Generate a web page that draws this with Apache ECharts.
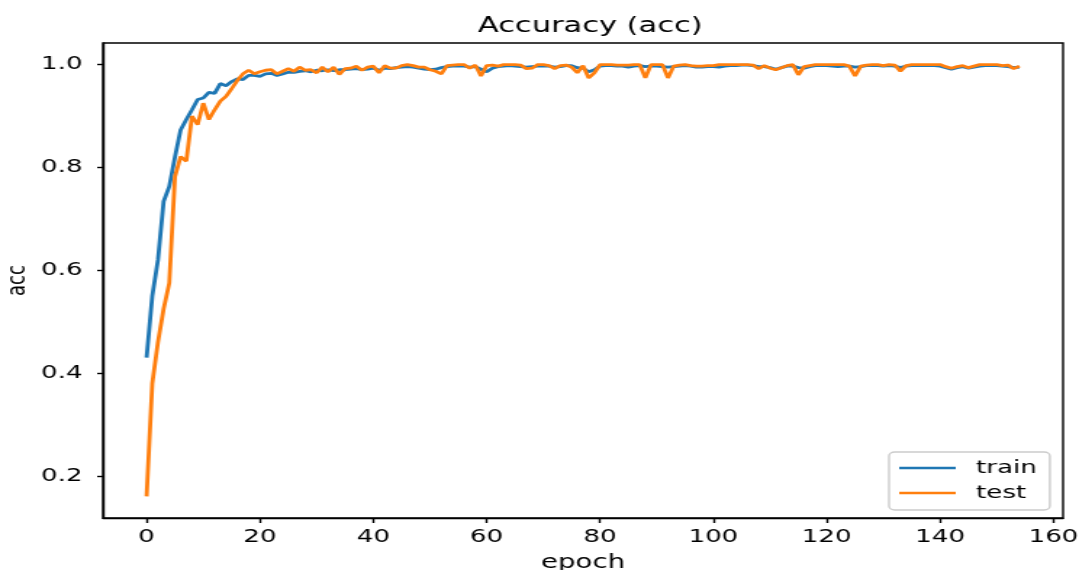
<!DOCTYPE html>
<html>
<head>
<meta charset="utf-8">
<script src="https://cdn.jsdelivr.net/npm/echarts@6/dist/echarts.min.js"></script>
<style>
html,body{margin:0;padding:0;background:#fff;overflow:hidden;}
#wrap{width:1079px;height:570px;overflow:hidden;}
/* the reference figure is stretched horizontally; reproduce that by drawing at 744px wide and stretching */
#chart{width:744px;height:570px;transform:scaleX(1.45027);transform-origin:0 0;}
</style>
</head>
<body>
<div id="wrap"><div id="chart"></div></div>
<script>
var titleText = 'Accuracy (acc)';
var xName = 'epoch';
var yName = 'acc';
var seriesNames = ['train', 'test'];
var xTicks = [0, 20, 40, 60, 80, 100, 120, 140, 160];
var yTicks = [0.2, 0.4, 0.6, 0.8, 1.0];

var train = [
0.43, 0.55, 0.62, 0.734, 0.763, 0.82, 0.873, 0.893, 0.912, 0.932,
0.935, 0.946, 0.944, 0.963, 0.959, 0.967, 0.972, 0.971, 0.979, 0.979,
0.977, 0.982, 0.983, 0.979, 0.982, 0.985, 0.985, 0.987, 0.988, 0.986,
0.989, 0.988, 0.990, 0.988, 0.990, 0.990, 0.991, 0.992, 0.990, 0.991,
0.993, 0.989, 0.993, 0.992, 0.994, 0.995, 0.996, 0.995, 0.993, 0.991,
0.990, 0.991, 0.994, 0.996, 0.997, 0.997, 0.997, 0.995, 0.996, 0.991,
0.986, 0.993, 0.996, 0.997, 0.998, 0.997, 0.996, 0.995, 0.996, 0.997,
0.997, 0.997, 0.995, 0.996, 0.998, 0.998, 0.994, 0.993, 0.986, 0.990,
0.997, 0.998, 0.998, 0.997, 0.997, 0.995, 0.997, 0.998, 0.996, 0.997,
0.997, 0.996, 0.995, 0.996, 0.997, 0.998, 0.997, 0.995, 0.995, 0.996,
0.996, 0.995, 0.997, 0.998, 0.998, 0.999, 0.999, 0.998, 0.996, 0.996,
0.994, 0.991, 0.994, 0.997, 0.997, 0.994, 0.993, 0.996, 0.998, 0.998,
0.998, 0.997, 0.996, 0.997, 0.997, 0.995, 0.996, 0.998, 0.998, 0.998,
0.997, 0.998, 0.997, 0.994, 0.997, 0.998, 0.998, 0.998, 0.998, 0.998,
0.997, 0.994, 0.991, 0.994, 0.996, 0.993, 0.995, 0.997, 0.998, 0.998,
0.998, 0.997, 0.996, 0.994, 0.995
];

var test = [
0.16, 0.38, 0.46, 0.525, 0.575, 0.782, 0.821, 0.812, 0.900, 0.883,
0.925, 0.893, 0.912, 0.929, 0.938, 0.953, 0.969, 0.982, 0.989, 0.982,
0.986, 0.989, 0.990, 0.982, 0.987, 0.992, 0.987, 0.995, 0.989, 0.990,
0.984, 0.995, 0.986, 0.995, 0.981, 0.992, 0.993, 0.997, 0.989, 0.995,
0.997, 0.984, 0.998, 0.993, 0.993, 0.998, 1.000, 0.998, 0.995, 0.995,
0.990, 0.987, 0.982, 0.998, 0.999, 1.000, 1.000, 0.993, 0.999, 0.978,
0.998, 0.999, 0.997, 1.000, 1.000, 1.000, 0.999, 0.992, 0.993, 1.000,
1.000, 0.998, 0.992, 0.998, 0.999, 0.995, 0.984, 0.998, 0.974, 0.984,
1.000, 1.000, 1.000, 0.999, 0.999, 0.999, 1.000, 1.000, 0.974, 1.000,
1.000, 1.000, 0.974, 0.997, 0.999, 1.000, 0.998, 0.997, 0.997, 0.998,
0.998, 1.000, 1.000, 1.000, 1.000, 1.000, 1.000, 0.999, 0.992, 0.998,
0.993, 0.990, 0.994, 0.998, 1.000, 0.980, 0.996, 0.998, 1.000, 1.000,
1.000, 1.000, 1.000, 1.000, 0.997, 0.978, 0.997, 0.999, 1.000, 1.000,
0.998, 1.000, 0.999, 0.987, 0.998, 1.000, 1.000, 1.000, 1.000, 1.000,
1.000, 0.996, 0.993, 0.996, 0.998, 0.994, 0.997, 1.000, 1.000, 1.000,
1.000, 0.998, 0.999, 0.992, 0.997
];

function pairs(arr) {
  var out = [];
  for (var i = 0; i < arr.length; i++) out.push([i, arr[i]]);
  return out;
}

var FONT = 'DejaVu Sans';
var chart = echarts.init(document.getElementById('chart'), null, {renderer: 'canvas', width: 744, height: 570});
chart.setOption({
  animation: false,
  backgroundColor: '#ffffff',
  title: {
    text: titleText,
    left: 402,
    textAlign: 'center',
    top: 11,
    textStyle: {fontFamily: FONT, fontSize: 21, fontWeight: 'normal', color: '#000'}
  },
  grid: {
    left: 71, right: 11, top: 43, bottom: 52,
    outerBoundsMode: 'none',
    containLabel: false,
    show: true, borderColor: '#000', borderWidth: 1.4, backgroundColor: 'transparent'
  },
  legend: {
    orient: 'vertical',
    left: 613, top: 452,
    data: seriesNames,
    icon: 'rect',
    itemWidth: 39, itemHeight: 2.6,
    itemGap: 7,
    padding: [7, 9, 8, 7],
    borderColor: '#cccccc', borderWidth: 1.4, borderRadius: 4,
    backgroundColor: 'rgba(255,255,255,0.8)',
    textStyle: {fontFamily: FONT, fontSize: 18, color: '#000', padding: [0, 0, 0, 9]}
  },
  xAxis: {
    type: 'value',
    min: -7.7, max: 161.7,
    name: xName,
    nameLocation: 'middle',
    nameGap: 36,
    nameMoveOverlap: false,
    nameTextStyle: {fontFamily: FONT, fontSize: 19, color: '#000'},
    axisLine: {show: true, onZero: false, lineStyle: {color: '#000', width: 1.4}},
    axisTick: {show: true, length: 5, customValues: xTicks, lineStyle: {color: '#000', width: 1.4}},
    axisLabel: {customValues: xTicks, margin: 10, fontFamily: FONT, fontSize: 18, color: '#000'},
    splitLine: {show: false}
  },
  yAxis: {
    type: 'value',
    min: 0.118, max: 1.042,
    name: yName,
    nameLocation: 'middle',
    nameGap: 50,
    nameRotate: 90,
    nameMoveOverlap: false,
    nameTextStyle: {fontFamily: FONT, fontSize: 18, color: '#000'},
    axisLine: {show: true, onZero: false, lineStyle: {color: '#000', width: 1.4}},
    axisTick: {show: true, length: 4, customValues: yTicks, lineStyle: {color: '#000', width: 1.4}},
    axisLabel: {
      customValues: yTicks, margin: 14, fontFamily: FONT, fontSize: 18, color: '#000',
      formatter: function (v) { return v.toFixed(1); }
    },
    splitLine: {show: false}
  },
  series: [
    {
      name: seriesNames[0], type: 'line', data: pairs(train),
      symbol: 'none', lineStyle: {color: '#1f77b4', width: 2.8}, itemStyle: {color: '#1f77b4'}
    },
    {
      name: seriesNames[1], type: 'line', data: pairs(test),
      symbol: 'none', lineStyle: {color: '#ff7f0e', width: 2.8}, itemStyle: {color: '#ff7f0e'}
    }
  ]
});
</script>
</body>
</html>
